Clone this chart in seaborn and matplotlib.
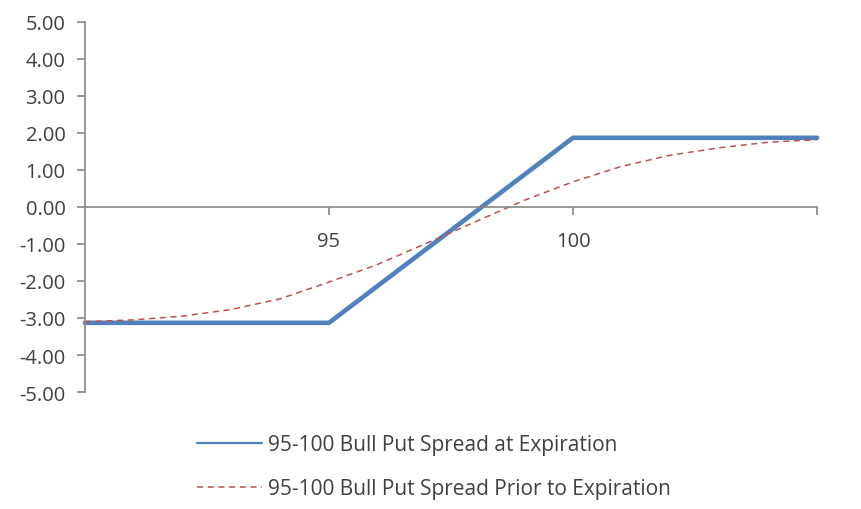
import matplotlib
matplotlib.use("Agg")
import matplotlib.pyplot as plt
from matplotlib.lines import Line2D
import seaborn as sns
import pandas as pd

prices = [90, 91, 92, 93, 94, 95, 96, 97, 98, 99, 100, 101, 102, 103, 104, 105]
at_expiration = [-3.13, -3.13, -3.13, -3.13, -3.13, -3.13, -2.13, -1.13, -0.13, 0.87,
                 1.87, 1.87, 1.87, 1.87, 1.87, 1.87]
prior_to_expiration = [-3.10, -3.05, -2.95, -2.77, -2.48, -2.03, -1.55, -0.98, -0.40, 0.18,
                       0.68, 1.10, 1.40, 1.60, 1.75, 1.82]
series_names = ["95-100 Bull Put Spread at Expiration",
                "95-100 Bull Put Spread Prior to Expiration"]
y_ticks = [-5, -4, -3, -2, -1, 0, 1, 2, 3, 4, 5]
x_ticks = [95, 100, 105]
x_tick_labels = ["95", "100", ""]

sns.set_theme(style="white")
plt.rcParams['font.family'] = ['Open Sans', 'DejaVu Sans']

df = pd.DataFrame({"price": prices, "exp": at_expiration, "prior": prior_to_expiration})

fig = plt.figure(figsize=(8.62, 5.10), dpi=100)
ax = fig.add_axes([0.0986, 0.2294, 0.9478 - 0.0986, 0.955 - 0.2294])

blue = "#4F81BD"
red = "#C0504D"
sns.lineplot(data=df, x="price", y="exp", ax=ax, color=blue, linewidth=3.3,
             clip_on=False, legend=False)
sns.lineplot(data=df, x="price", y="prior", ax=ax, color=red, linewidth=1.1,
             linestyle=(0, (4, 3)), clip_on=False, legend=False)

ax.set_xlim(90, 105)
ax.set_ylim(-5, 5)
ax.set_xlabel("")
ax.set_ylabel("")

gray = "#868686"
for s in ["top", "right"]:
    ax.spines[s].set_visible(False)
ax.spines["bottom"].set_position(("data", 0))
ax.spines["bottom"].set_color(gray)
ax.spines["left"].set_color(gray)
ax.spines["bottom"].set_linewidth(1.2)
ax.spines["left"].set_linewidth(1.2)

ax.set_yticks(y_ticks)
ax.set_yticklabels([f"{v:.2f}" for v in y_ticks])
ax.set_xticks(x_ticks)
ax.set_xticklabels(x_tick_labels)
ax.tick_params(axis="y", direction="out", length=6, width=1.2, color=gray,
               labelsize=14.5, labelcolor="#404040", pad=8, left=True)
ax.tick_params(axis="x", direction="out", length=6, width=1.2, color=gray,
               labelsize=14.5, labelcolor="#404040", pad=11, bottom=True)

handles = [Line2D([], [], color=blue, linewidth=1.6),
           Line2D([], [], color=red, linewidth=1.1, linestyle=(0, (4, 3)))]
fig.legend(handles, series_names, loc="upper left", bbox_to_anchor=(0.207, 0.183),
           frameon=False, fontsize=15, handlelength=3.1, handletextpad=0.3,
           labelspacing=1.1, labelcolor="#404040")

fig.savefig("out.png", dpi=100)
